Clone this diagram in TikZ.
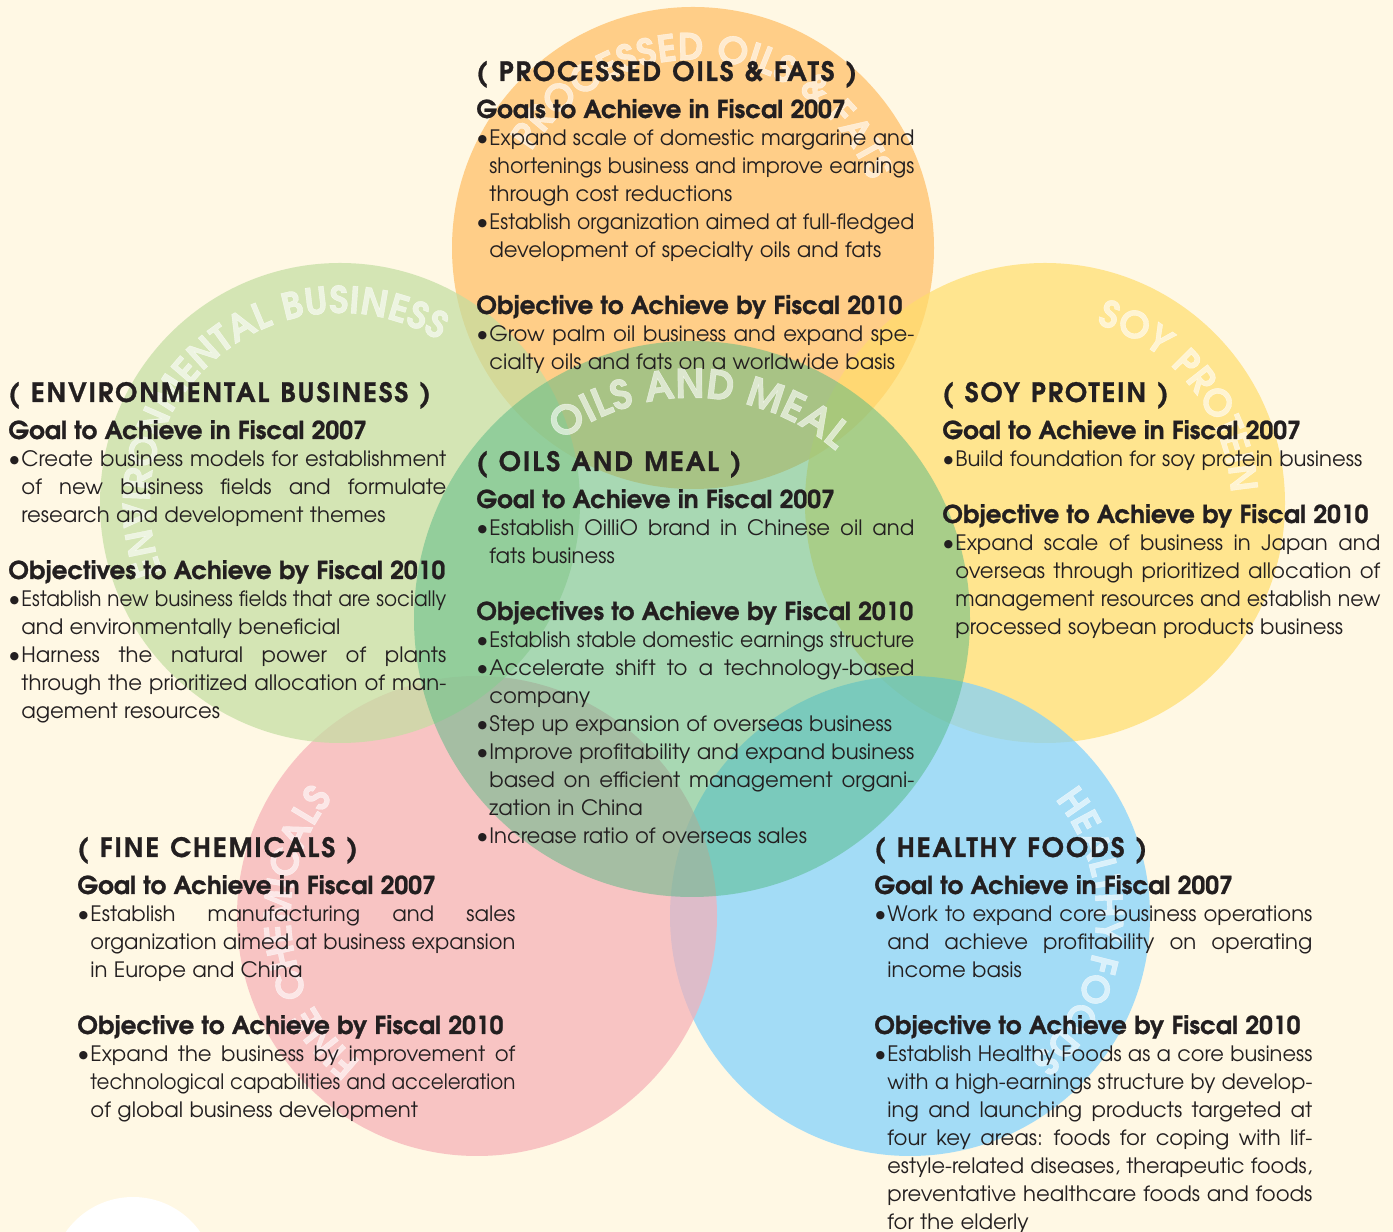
\documentclass[tikz,border=0pt]{standalone}
\usepackage{fontspec}
\usepackage{graphicx}
\setmainfont{TeX Gyre Adventor}
\usetikzlibrary{decorations.text}

\definecolor{cream}{HTML}{FFF8E4}
\definecolor{oilfat}{HTML}{FFBD61}
\definecolor{envgreen}{HTML}{C2DEA1}
\definecolor{soyyellow}{HTML}{FFDD6B}
\definecolor{chempink}{HTML}{F6AFB6}
\definecolor{foodblue}{HTML}{7CD1FF}
\definecolor{mealgreen}{HTML}{53B984}
\definecolor{ink}{HTML}{231F20}

\newlength\colw \setlength\colw{219pt}
\newlength\bulw \setlength\bulw{6.5pt}
\newlength\linew \setlength\linew{\dimexpr\colw-\bulw\relax}
\newsavebox\linebox
\newcommand\wordgap{\spaceskip=.3em plus .5em minus .06em\relax}
\newcommand\fitto[1]{\sbox\linebox{\wordgap#1}%
  \ifdim\wd\linebox>\linew\relax\resizebox{\linew}{\ht\linebox}{\usebox\linebox}%
  \else\makebox[\linew][s]{\wordgap#1}\fi}
\newcommand\ttl[1]{\mbox{\fontsize{13.3}{14}\bfseries\addfontfeature{LetterSpace=7,FakeBold=1}\spaceskip=.42em\relax#1}}
\newcommand\hdg[1]{{\fontsize{12.3}{14}\bfseries\addfontfeature{FakeBold=1}\wordgap#1}}
\newcommand\bul{\makebox[\bulw][l]{\scalebox{1.1}{\textbullet}}}
\newcommand\bfull[1]{\bul\fitto{#1}}
\newcommand\bpart[1]{\bul{\wordgap#1}}
\newcommand\lfull[1]{\hspace*{\bulw}\fitto{#1}}
\newcommand\lpart[1]{\hspace*{\bulw}{\wordgap#1}}
\newcommand\arcfont{\fontsize{18.5}{18.5}\bfseries\addfontfeature{LetterSpace=3,FakeBold=1}}
\newcommand\bigarcfont{\fontsize{20}{20}\bfseries\addfontfeature{FakeBold=1}}
\newcommand\bodyfont{\fontsize{10.6}{14}\selectfont\lineskiplimit-10pt\relax}

\begin{document}
\begin{tikzpicture}[
  x=0.5pt, y=0.5pt,
  disc/.style={circle, inner sep=0pt, fill opacity=0.7},
  sect/.style={anchor=base west, inner sep=0pt, text width=\colw, align=left, text=ink,
    font=\bodyfont},
  arcword/.style 2 args={decorate, decoration={text along path, text align=center,
    text color=white, text={|#1|#2}}}
  ]

\useasboundingbox (0,0) rectangle (1393,1232);
\clip (0,0) rectangle (1393,1232);
\fill [cream] (0,0) rectangle (1393,1232);

\node [disc, fill=oilfat, minimum size=241pt] (proc) at (693,984) {};
\node [disc, fill=soyyellow, minimum size=240pt] (soy) at (1045,729) {};
\node [disc, fill=foodblue, minimum size=240pt] (heal) at (910,316) {};
\node [disc, fill=chempink, minimum size=240pt] (fine) at (477,316) {};
\node [disc, fill=envgreen, minimum size=240pt] (env) at (340,729) {};
\node [circle, inner sep=0pt, fill=mealgreen, fill opacity=0.5, minimum size=278pt] (oil) at (692,613) {};
\node [circle, inner sep=0pt, fill=white, minimum size=82pt] (blank) at (133,-47) {};

\begin{scope}[opacity=0.6]
\path [arcword={\arcfont}{PROCESSED OILS {\&} FATS}] (proc) ++(175:188) arc [start angle=175, end angle=-5, radius=188];
\path [arcword={\arcfont}{ENVIRONMENTAL BUSINESS}] (env) ++(220:190) arc [start angle=220, end angle=40, radius=190];
\path [arcword={\arcfont}{SOY PROTEIN}] (soy) ++(128.5:186) arc [start angle=128.5, end angle=-51.5, radius=186];
\path [arcword={\bigarcfont}{OILS AND MEAL}] (oil) ++(178:221) arc [start angle=178, end angle=-2, radius=221];
\path [arcword={\arcfont}{FINE CHEMICALS}] (fine) ++(276:186) arc [start angle=276, end angle=96, radius=186];
\path [arcword={\arcfont}{HEALTHY FOODS}] (heal) ++(84.5:186) arc [start angle=84.5, end angle=-95.5, radius=186];
\end{scope}

\node [sect] (proctext) at (476,1151) {%
  \ttl{( PROCESSED OILS \& FATS )}\\[4.5pt]
  \hdg{Goals to Achieve in Fiscal 2007}\\
  \bfull{Expand scale of domestic margarine and}\\
  \lfull{shortenings business and improve earnings}\\
  \lpart{through cost reductions}\\
  \bfull{Establish organization aimed at full-fledged}\\
  \lpart{development of specialty oils and fats}\\[14pt]
  \hdg{Objective to Achieve by Fiscal 2010}\\
  \bfull{Grow palm oil business and expand spe-}\\
  \lpart{cialty oils and fats on a worldwide basis}};

\node [sect] (envtext) at (8,830) {%
  \ttl{( ENVIRONMENTAL BUSINESS )}\\[4.5pt]
  \hdg{Goal to Achieve in Fiscal 2007}\\
  \bfull{Create business models for establishment}\\
  \lfull{of new business fields and formulate}\\
  \lpart{research and development themes}\\[14pt]
  \hdg{Objectives to Achieve by Fiscal 2010}\\
  \bfull{Establish new business fields that are socially}\\
  \lpart{and environmentally beneficial}\\
  \bfull{Harness the natural power of plants}\\
  \lfull{through the prioritized allocation of man-}\\
  \lpart{agement resources}};

\node [sect] (soytext) at (942,830) {%
  \ttl{( SOY PROTEIN )}\\[4.5pt]
  \hdg{Goal to Achieve in Fiscal 2007}\\
  \bpart{Build foundation for soy protein business}\\[14pt]
  \hdg{Objective to Achieve by Fiscal 2010}\\
  \bfull{Expand scale of business in Japan and}\\
  \lfull{overseas through prioritized allocation of}\\
  \lfull{management resources and establish new}\\
  \lpart{processed soybean products business}};

\node [sect] (oiltext) at (476,761) {%
  \ttl{( OILS AND MEAL )}\\[4.5pt]
  \hdg{Goal to Achieve in Fiscal 2007}\\
  \bfull{Establish OilliO brand in Chinese oil and}\\
  \lpart{fats business}\\[14pt]
  \hdg{Objectives to Achieve by Fiscal 2010}\\
  \bfull{Establish stable domestic earnings structure}\\
  \bfull{Accelerate shift to a technology-based}\\
  \lpart{company}\\
  \bpart{Step up expansion of overseas business}\\
  \bfull{Improve profitability and expand business}\\
  \lfull{based on efficient management organi-}\\
  \lpart{zation in China}\\
  \bpart{Increase ratio of overseas sales}};

\node [sect] (finetext) at (77,375) {%
  \ttl{( FINE CHEMICALS )}\\[4.5pt]
  \hdg{Goal to Achieve in Fiscal 2007}\\
  \bfull{Establish manufacturing and sales}\\
  \lfull{organization aimed at business expansion}\\
  \lpart{in Europe and China}\\[14pt]
  \hdg{Objective to Achieve by Fiscal 2010}\\
  \bfull{Expand the business by improvement of}\\
  \lfull{technological capabilities and acceleration}\\
  \lpart{of global business development}};

\node [sect] (healtext) at (874,375) {%
  \ttl{( HEALTHY FOODS )}\\[4.5pt]
  \hdg{Goal to Achieve in Fiscal 2007}\\
  \bfull{Work to expand core business operations}\\
  \lfull{and achieve profitability on operating}\\
  \lpart{income basis}\\[14pt]
  \hdg{Objective to Achieve by Fiscal 2010}\\
  \bfull{Establish Healthy Foods as a core business}\\
  \lfull{with a high-earnings structure by develop-}\\
  \lfull{ing and launching products targeted at}\\
  \lfull{four key areas: foods for coping with lif-}\\
  \lfull{estyle-related diseases, therapeutic foods,}\\
  \lfull{preventative healthcare foods and foods}\\
  \lpart{for the elderly}};

\end{tikzpicture}
\end{document}
